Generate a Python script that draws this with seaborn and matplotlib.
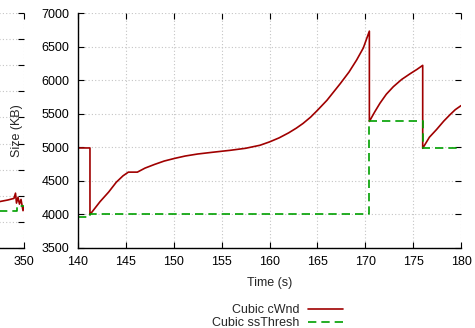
import numpy as np
import pandas as pd
import matplotlib
matplotlib.use("Agg")
import matplotlib.pyplot as plt
import seaborn as sns

# --- data ---
# main panel: congestion window (KB) vs time (s)
cwnd_time = [140.0, 141.25, 141.25, 141.4, 142.3, 143.2, 144.0, 144.7, 145.26, 146.2,
             147.0, 148.0, 149.0, 150.1, 151.2, 152.5, 154.0, 155.9, 157.5, 159.0,
             160.0, 161.0, 162.0, 162.8, 163.5, 164.3, 165.0, 166.0, 167.4, 168.3,
             169.1, 169.8, 170.43, 170.43, 171.0, 171.54, 172.2, 172.93, 173.8, 174.67,
             175.4, 176.0, 176.0, 176.7, 177.45, 178.2, 178.85, 179.4, 180.0]
cwnd_size = [4990, 4990, 4000, 4025, 4190, 4333, 4480, 4575, 4630, 4630,
             4690, 4745, 4795, 4835, 4870, 4900, 4925, 4955, 4985, 5030,
             5080, 5140, 5215, 5285, 5355, 5450, 5550, 5700, 5950, 6120,
             6300, 6480, 6730, 5385, 5530, 5657, 5790, 5902, 6010, 6094,
             6160, 6220, 4985, 5150, 5265, 5390, 5485, 5560, 5620]

ssth_time = [140.0, 141.25, 141.25, 170.43, 170.43, 176.0, 176.0, 180.0]
ssth_size = [3960, 3960, 4000, 4000, 5385, 5385, 4985, 4985]

# left (cut-off) panel, only its right end is visible
left_cwnd_time = [340.0, 344.0, 346.87, 347.91, 348.69, 348.89, 349.02, 349.22,
                  349.41, 349.61, 349.87, 350.0]
left_cwnd_size = [3360, 3375, 3390, 3420, 3450, 3550, 3360, 3470, 3340, 3430, 3215, 3290]
left_ssth_time = [340.0, 349.1, 349.1, 350.0]
left_ssth_size = [3205, 3205, 3300, 3300]
left_xticks = [300, 310, 320, 330, 340, 350]

RED = "#a00000"
GREEN = "#00a000"

sns.set_theme(style="ticks")
plt.rcParams["font.family"] = ["Liberation Sans", "DejaVu Sans"]
plt.rcParams["font.size"] = 9

fig = plt.figure(figsize=(4.75, 3.28), dpi=100)
W, H = 475, 328


def make_axes(left_px):
    ax = fig.add_axes([left_px / W, (H - 248) / H, 383 / W, 235 / H])
    ax.grid(True, color="#c4c4c4", linestyle=(0, (1, 2)), linewidth=0.8)
    for side in ["top", "right"]:
        ax.spines[side].set_visible(False)
    for side in ["left", "bottom"]:
        ax.spines[side].set_color("black")
        ax.spines[side].set_linewidth(1.0)
    ax.tick_params(direction="in", length=4, width=0.8, colors="black",
                   top=True, right=True, labelsize=9, pad=6)
    return ax


# cut-off panel on the left
ax0 = make_axes(24 - 383)
sns.lineplot(x=left_cwnd_time, y=left_cwnd_size, ax=ax0, color=RED, lw=1.2,
             sort=False, estimator=None)
sns.lineplot(x=left_ssth_time, y=left_ssth_size, ax=ax0, color=GREEN, lw=1.2,
             sort=False, estimator=None, linestyle=(0, (5, 3)))
ax0.set_xlim(300, 350)
ax0.set_ylim(2500, 7000)
ax0.set_xticks(left_xticks)
ax0.set_xticklabels(["" for t in left_xticks[:-1]] + [str(left_xticks[-1])])
ax0.set_yticks(np.arange(2500, 7001, 500))
ax0.tick_params(labelleft=False)
ax0.set_xlabel("")
ax0.set_ylabel("")

# main panel
ax = make_axes(78)
sns.lineplot(x=cwnd_time, y=cwnd_size, ax=ax, color=RED, lw=1.2,
             sort=False, estimator=None, label="Cubic cWnd")
sns.lineplot(x=ssth_time, y=ssth_size, ax=ax, color=GREEN, lw=1.2,
             sort=False, estimator=None, linestyle=(0, (5, 3)),
             label="Cubic ssThresh")
ax.set_xlim(140, 180)
ax.set_ylim(3500, 7000)
ax.set_xticks(np.arange(140, 181, 5))
ax.set_yticks(np.arange(3500, 7001, 500))
ax.set_xlabel("Time (s)", fontsize=9)
ax.set_ylabel("Size (KB)", fontsize=9)
ax.xaxis.set_label_coords(0.5, -(277 - 248) / 235)
ax.yaxis.set_label_coords((23 - 78) / 383, 0.5)

handles, labels = ax.get_legend_handles_labels()
if ax.get_legend() is not None:
    ax.get_legend().remove()
fig.legend(handles, labels, loc="upper right", bbox_to_anchor=(349 / W, 1 - 298 / H),
           markerfirst=False, frameon=False, fontsize=9, borderpad=0,
           handlelength=2.8, handletextpad=0.7, labelspacing=0.05)

fig.savefig("out.png", dpi=100)
